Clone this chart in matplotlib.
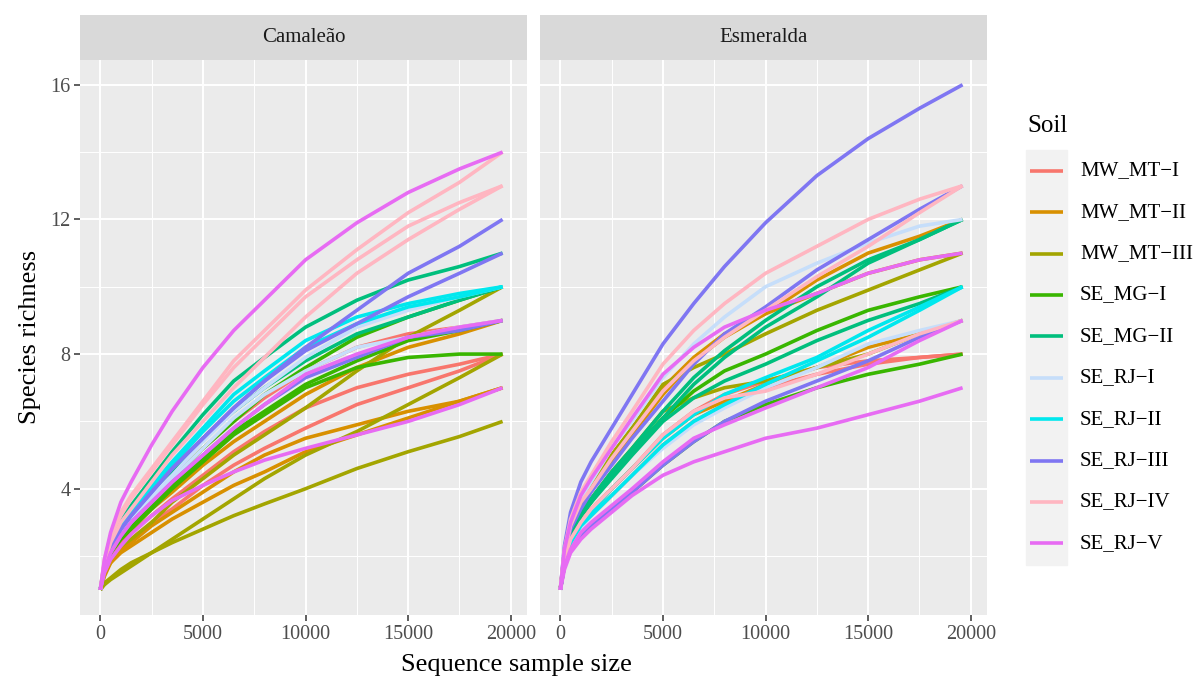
import matplotlib
matplotlib.use("Agg")
import matplotlib.pyplot as plt
from matplotlib.patches import Rectangle
from matplotlib.lines import Line2D

plt.rcParams['font.family'] = ['Liberation Serif', 'DejaVu Serif']

# sample sizes at which the curves were read
xs = [0, 200, 500, 1000, 1500, 2500, 3500, 5000, 6500, 8000, 10000, 12500, 15000, 17500, 19600]

soils = ["MW_MT\u2212I", "MW_MT\u2212II", "MW_MT\u2212III", "SE_MG\u2212I", "SE_MG\u2212II",
         "SE_RJ\u2212I", "SE_RJ\u2212II", "SE_RJ\u2212III", "SE_RJ\u2212IV", "SE_RJ\u2212V"]
colors = ["#F8766D", "#D89000", "#A3A500", "#39B600", "#00BF7D",
          "#C6DEFA", "#00E8EE", "#7F76F2", "#FFB6C1", "#E76BF3"]

# Camaleão: soil index of each curve + richness values
cam_soil = [0, 0, 0, 1, 1, 1, 2, 2, 2, 3, 3, 3, 4, 4,
            5, 5, 6, 6, 7, 7, 7, 8, 8, 8, 9, 9, 9]
cam_rich = [
    [1, 1.6, 2.2, 2.7, 3.1, 3.7, 4.3, 5.2, 6.0, 6.7, 7.5, 8.2, 8.6, 8.8, 9],
    [1, 1.5, 2.0, 2.4, 2.7, 3.2, 3.7, 4.4, 5.1, 5.7, 6.4, 7.0, 7.4, 7.7, 8],
    [1, 1.5, 1.9, 2.3, 2.5, 3.0, 3.4, 4.1, 4.7, 5.2, 5.8, 6.5, 7.0, 7.5, 8],
    [1, 1.6, 2.1, 2.5, 2.8, 3.4, 3.9, 4.7, 5.4, 6.0, 6.8, 7.6, 8.2, 8.6, 9],
    [1, 1.5, 1.8, 2.2, 2.4, 2.9, 3.3, 3.9, 4.5, 5.0, 5.5, 5.9, 6.3, 6.6, 7],
    [1, 1.4, 1.8, 2.1, 2.3, 2.7, 3.1, 3.6, 4.1, 4.5, 5.1, 5.6, 6.1, 6.6, 7],
    [1, 1.5, 1.9, 2.3, 2.5, 3.0, 3.6, 4.3, 5.0, 5.6, 6.4, 7.5, 8.5, 9.3, 10],
    [1, 1.15, 1.3, 1.5, 1.7, 2.1, 2.5, 3.1, 3.7, 4.3, 5.0, 5.7, 6.5, 7.3, 8],
    [1, 1.2, 1.35, 1.6, 1.8, 2.1, 2.4, 2.8, 3.2, 3.55, 4.0, 4.6, 5.1, 5.55, 6],
    [1, 1.6, 2.2, 2.7, 3.1, 3.7, 4.3, 5.2, 6.0, 6.8, 7.6, 8.5, 9.1, 9.6, 10],
    [1, 1.6, 2.1, 2.6, 2.9, 3.5, 4.1, 4.9, 5.7, 6.3, 7.1, 7.8, 8.4, 8.7, 9],
    [1, 1.6, 2.1, 2.5, 2.8, 3.4, 4.0, 4.8, 5.6, 6.2, 7.0, 7.6, 7.9, 8.0, 8],
    [1, 1.8, 2.5, 3.1, 3.5, 4.3, 5.1, 6.2, 7.2, 7.9, 8.8, 9.6, 10.2, 10.6, 11],
    [1, 1.7, 2.3, 2.8, 3.2, 3.9, 4.5, 5.5, 6.3, 7.0, 7.8, 8.6, 9.1, 9.6, 10],
    [1, 1.7, 2.2, 2.8, 3.1, 3.8, 4.4, 5.4, 6.3, 7.0, 7.9, 8.8, 9.3, 9.7, 10],
    [1, 1.6, 2.2, 2.7, 3.0, 3.7, 4.3, 5.2, 6.1, 6.8, 7.5, 8.2, 8.5, 8.8, 9],
    [1, 1.7, 2.4, 3.0, 3.4, 4.1, 4.8, 5.8, 6.8, 7.5, 8.4, 9.1, 9.5, 9.8, 10],
    [1, 1.7, 2.3, 2.9, 3.3, 4.0, 4.7, 5.7, 6.6, 7.3, 8.2, 8.9, 9.4, 9.7, 10],
    [1, 1.7, 2.3, 2.8, 3.2, 3.9, 4.6, 5.5, 6.4, 7.2, 8.2, 9.3, 10.4, 11.2, 12],
    [1, 1.7, 2.3, 2.8, 3.2, 3.9, 4.6, 5.5, 6.4, 7.2, 8.1, 8.9, 9.7, 10.4, 11],
    [1, 1.6, 2.1, 2.6, 3.0, 3.6, 4.2, 5.0, 5.8, 6.5, 7.3, 7.9, 8.5, 8.7, 9],
    [1, 1.9, 2.6, 3.3, 3.8, 4.6, 5.4, 6.6, 7.8, 8.7, 9.9, 11.1, 12.2, 13.1, 14],
    [1, 1.8, 2.6, 3.2, 3.7, 4.5, 5.3, 6.5, 7.6, 8.5, 9.7, 10.8, 11.8, 12.5, 13],
    [1, 1.8, 2.4, 3.0, 3.4, 4.2, 5.0, 6.0, 7.0, 7.9, 9.1, 10.4, 11.4, 12.3, 13],
    [1, 1.9, 2.7, 3.6, 4.2, 5.3, 6.3, 7.6, 8.7, 9.6, 10.8, 11.9, 12.8, 13.5, 14],
    [1, 1.5, 1.9, 2.3, 2.65, 3.2, 3.65, 4.1, 4.5, 4.85, 5.2, 5.6, 6.0, 6.5, 7],
    [1, 1.6, 2.1, 2.6, 3.0, 3.6, 4.2, 5.0, 5.8, 6.5, 7.4, 8.0, 8.5, 8.8, 9],
]

# Esmeralda
esm_soil = [0, 0, 1, 1, 1, 2, 2, 3, 3, 4, 4, 4,
            5, 5, 6, 6, 7, 7, 7, 8, 8, 8, 9, 9, 9]
esm_rich = [
    [1, 1.9, 2.5, 3.0, 3.4, 4.0, 4.6, 5.6, 6.3, 6.8, 7.2, 7.6, 7.8, 7.9, 8],
    [1, 1.8, 2.4, 2.9, 3.2, 3.8, 4.4, 5.3, 6.0, 6.5, 7.0, 7.4, 7.7, 7.9, 8],
    [1, 2.1, 2.8, 3.5, 4.0, 4.8, 5.6, 6.8, 7.8, 8.5, 9.2, 10.2, 11.0, 11.5, 12],
    [1, 2.1, 2.9, 3.6, 4.1, 5.0, 5.8, 7.0, 7.9, 8.6, 9.2, 9.8, 10.4, 10.8, 11],
    [1, 1.8, 2.4, 3.0, 3.3, 4.0, 4.6, 5.5, 6.2, 6.6, 7.1, 7.6, 8.2, 8.6, 9],
    [1, 2.1, 2.9, 3.7, 4.1, 5.0, 5.8, 7.1, 7.6, 8.0, 8.6, 9.3, 9.9, 10.5, 11],
    [1, 2.0, 2.7, 3.3, 3.7, 4.5, 5.2, 6.3, 6.7, 7.0, 7.2, 7.6, 8.0, 8.6, 9],
    [1, 1.9, 2.6, 3.2, 3.6, 4.4, 5.1, 6.1, 6.9, 7.5, 8.0, 8.7, 9.3, 9.7, 10],
    [1, 1.7, 2.2, 2.6, 2.9, 3.4, 3.9, 4.7, 5.4, 6.0, 6.5, 7.0, 7.4, 7.7, 8],
    [1, 2.0, 2.7, 3.3, 3.7, 4.5, 5.2, 6.3, 7.3, 8.1, 9.0, 10.0, 10.8, 11.4, 12],
    [1, 1.9, 2.6, 3.2, 3.6, 4.4, 5.1, 6.1, 7.1, 7.9, 8.8, 9.7, 10.7, 11.4, 12],
    [1, 1.9, 2.6, 3.2, 3.6, 4.3, 5.0, 6.0, 6.7, 7.2, 7.7, 8.4, 9.0, 9.5, 10],
    [1, 2.2, 3.0, 3.7, 4.2, 5.2, 6.0, 7.3, 8.3, 9.1, 10.0, 10.7, 11.3, 11.8, 12],
    [1, 1.8, 2.3, 2.8, 3.2, 3.8, 4.4, 5.2, 5.9, 6.4, 7.0, 7.6, 8.3, 8.7, 9],
    [1, 1.8, 2.4, 3.0, 3.3, 4.0, 4.6, 5.5, 6.2, 6.8, 7.3, 7.9, 8.7, 9.4, 10],
    [1, 1.8, 2.4, 2.9, 3.2, 3.8, 4.4, 5.3, 6.0, 6.5, 7.1, 7.8, 8.5, 9.3, 10],
    [1, 2.3, 3.3, 4.2, 4.8, 5.8, 6.8, 8.3, 9.5, 10.6, 11.9, 13.3, 14.4, 15.3, 16],
    [1, 2.0, 2.8, 3.4, 3.9, 4.7, 5.5, 6.6, 7.7, 8.6, 9.4, 10.5, 11.4, 12.3, 13],
    [1, 1.7, 2.2, 2.6, 2.9, 3.4, 3.9, 4.7, 5.4, 6.0, 6.6, 7.2, 7.8, 8.5, 9],
    [1, 2.2, 3.1, 3.9, 4.4, 5.4, 6.3, 7.7, 8.7, 9.5, 10.4, 11.2, 12.0, 12.6, 13],
    [1, 2.1, 2.9, 3.6, 4.0, 4.9, 5.7, 6.9, 7.8, 8.5, 9.3, 10.3, 11.2, 12.2, 13],
    [1, 1.9, 2.5, 3.0, 3.4, 4.0, 4.6, 5.6, 6.3, 6.7, 6.9, 7.4, 8.0, 8.6, 9],
    [1, 2.2, 3.0, 3.8, 4.3, 5.2, 6.1, 7.4, 8.2, 8.8, 9.3, 9.8, 10.4, 10.8, 11],
    [1, 1.7, 2.2, 2.7, 3.0, 3.5, 4.0, 4.8, 5.5, 5.9, 6.4, 7.0, 7.6, 8.4, 9],
    [1, 1.6, 2.1, 2.5, 2.8, 3.3, 3.8, 4.4, 4.8, 5.1, 5.5, 5.8, 6.2, 6.6, 7],
]

panels = [("Camale\u00e3o", cam_soil, cam_rich), ("Esmeralda", esm_soil, esm_rich)]

W, H = 1197, 678
fig = plt.figure(figsize=(W / 100, H / 100), dpi=100)

panel_left = [80, 540]
panel_w = 447
top, bottom = 59.5, 615
strip_top = 15

for (name, soil_idx, rich), left in zip(panels, panel_left):
    ax = fig.add_axes([left / W, (H - bottom) / H, panel_w / W, (bottom - top) / H])
    ax.set_facecolor("#EBEBEB")
    for s in ax.spines.values():
        s.set_visible(False)
    for i, ys in zip(soil_idx, rich):
        ax.plot(xs, ys, color=colors[i], lw=2.6, solid_joinstyle="round",
                solid_capstyle="butt", zorder=3)
    ax.set_xlim(-990, 20790)
    ax.set_ylim(0.25, 16.75)
    ax.set_xticks([0, 5000, 10000, 15000, 20000])
    ax.set_xticks([2500, 7500, 12500, 17500], minor=True)
    ax.set_yticks([4, 8, 12, 16])
    ax.set_yticks([2, 6, 10, 14], minor=True)
    ax.grid(which="major", color="white", lw=1.4, zorder=0)
    ax.grid(which="minor", color="white", lw=0.7, zorder=0)
    ax.set_axisbelow(True)
    ax.tick_params(which="major", length=4, width=1.1, color="#333333",
                   labelsize=14.5, labelcolor="#4D4D4D", pad=3)
    ax.tick_params(which="minor", length=0)
    if left != panel_left[0]:
        ax.tick_params(axis="y", length=0, labelleft=False)

    sax = fig.add_axes([left / W, (H - top) / H, panel_w / W, (top - strip_top) / H])
    sax.set_facecolor("#D9D9D9")
    sax.set_xticks([])
    sax.set_yticks([])
    for s in sax.spines.values():
        s.set_visible(False)
    sax.text(0.5, 0.5, name, ha="center", va="center", fontsize=15, color="#1A1A1A",
             transform=sax.transAxes)

fig.text(516 / W, 1 - 665 / H, "Sequence sample size", ha="center", va="center",
         fontsize=19)
fig.text(30 / W, 1 - 337 / H, "Species richness", ha="center", va="center",
         rotation=90, fontsize=19)

# legend
lax = fig.add_axes([0, 0, 1, 1])
lax.set_xlim(0, W)
lax.set_ylim(H, 0)
lax.axis("off")
lax.text(1027, 126, "Soil", fontsize=18, ha="left", va="center")
lax.add_patch(Rectangle((1026, 150), 41, 415, color="#F2F2F2"))
for k, (lab, c) in enumerate(zip(soils, colors)):
    yk = 170.7 + k * 41.4
    lax.add_line(Line2D([1030, 1063], [yk, yk], color=c, lw=2.6, solid_capstyle="butt"))
    lax.text(1080, yk, lab, fontsize=15, ha="left", va="center")

fig.savefig("out.png", dpi=100)
